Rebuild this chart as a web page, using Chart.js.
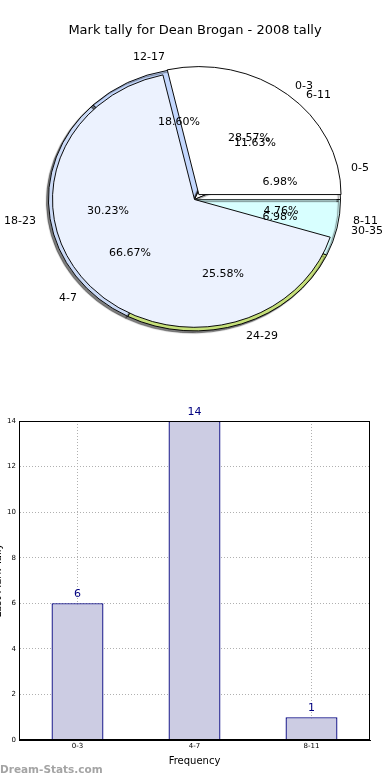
<!DOCTYPE html>
<html>
<head>
<meta charset="utf-8">
<script src="https://cdn.jsdelivr.net/npm/chart.js@4.4.0/dist/chart.umd.min.js"></script>
<style>
  html, body { margin: 0; padding: 0; background: #fff; }
  body { width: 390px; height: 780px; position: relative; overflow: hidden; font-family: "DejaVu Sans", sans-serif; }
  #title { position: absolute; left: 0; top: 22px; width: 390px; text-align: center; font-size: 13px; line-height: 16px; color: #000; z-index: 5; }
  .layer { position: absolute; left: 0; top: 0; width: 390px; height: 399px; }
  #barBox { position: absolute; left: -20px; top: 400px; width: 410px; height: 380px; }
  #mark { position: absolute; left: 0; top: 763px; font-size: 10.5px; font-weight: bold; color: #a4a4a4; }
</style>
</head>
<body>
<div id="title">Mark tally for Dean Brogan - 2008 tally</div>
<div class="layer"><canvas id="tally"></canvas></div>
<div class="layer"><canvas id="freqPie"></canvas></div>
<div id="barBox"><canvas id="bar"></canvas></div>
<div id="mark">Dream-Stats.com</div>

<script>
"use strict"

// DATA

// frequency groups (pie on top + bar chart)
const freqCats = ['0-3', '4-7', '8-11'];
const freqCounts = [6, 14, 1];

// tally groups (pie underneath)
const tallyCats = ['0-5', '6-11', '12-17', '18-23', '24-29', '30-35'];
const tallyCounts = [3, 5, 8, 13, 11, 3];

// bar chart axis
const yTicks = [0, 2, 4, 6, 8, 10, 12, 14];
const xTitle = 'Frequency';
const yTitle = 'Last Mark Tally';

// colours
const freqColors = ['#ffffff', '#ecf2fe', 'rgba(216,255,255,0.5)'];
const freqBorders = ['#000', '#000', 'rgba(0,0,0,0)'];
const tallyColors = ['#ffffff', '#ffffff', '#c3d7fd', '#cbdaf6', '#c6e07a', '#d8ffff'];

// SETUP

Chart.defaults.font.family = '"DejaVu Sans", sans-serif';
Chart.defaults.color = '#000';

// the pie is an ellipse in the picture: squash it vertically round its centre
const SY = 0.9;
const pieR = 146;
const innerR = 142;

// matplotlib goes counter-clockwise from 3 o'clock, Chart.js clockwise
const rev = a => a.slice().reverse();

function squash(withShadow) {
  return {
    id: 'squash',
    beforeDatasetsDraw(chart) {
      const ctx = chart.ctx;
      const a = chart.chartArea;
      const cy = (a.top + a.bottom) / 2;
      ctx.save();
      ctx.translate(0, cy * (1 - SY));
      ctx.scale(1, SY);
      if (withShadow) {
        ctx.shadowColor = 'rgba(0,0,0,0.5)';
        ctx.shadowOffsetX = -2;
        ctx.shadowOffsetY = 2;
        ctx.shadowBlur = 1;
      }
    },
    afterDatasetsDraw(chart) {
      chart.ctx.restore();
    }
  };
}

const pieOptions = (r) => ({
  responsive: true,
  maintainAspectRatio: false,
  animation: false,
  rotation: 90,
  radius: r,
  layout: { padding: { right: 1 } },
  plugins: { legend: { display: false }, tooltip: { enabled: false } }
});

// pie underneath
const tallyChart = new Chart(document.getElementById('tally'), {
  type: 'pie',
  data: {
    labels: rev(tallyCats),
    datasets: [{
      data: rev(tallyCounts),
      backgroundColor: rev(tallyColors),
      borderColor: '#000',
      borderWidth: 1
    }]
  },
  options: pieOptions(pieR),
  plugins: [squash(true)]
});

// labels of both pies, drawn on the top canvas
const pieText = {
  id: 'pieText',
  afterDraw(chart) {
    const ctx = chart.ctx;
    ctx.save();
    ctx.fillStyle = '#000';
    ctx.font = '11px "DejaVu Sans"';
    ctx.textBaseline = 'middle';
    const put = (text, x, y, align) => {
      ctx.textAlign = align;
      ctx.fillText(text, Math.round(x), Math.round(y) + 0.5);
    };
    [chart, tallyChart].forEach(c => {
      const arcs = c.getDatasetMeta(0).data;
      const vals = c.data.datasets[0].data;
      const total = vals.reduce((a, b) => a + b, 0);
      arcs.forEach((arc, i) => {
        const mid = (arc.startAngle + arc.endAngle) / 2;
        const cos = Math.cos(mid), sin = Math.sin(mid) * SY;
        put(c.data.labels[i], arc.x + cos * pieR * 1.1, arc.y + sin * pieR * 1.1, cos >= 0 ? 'left' : 'right');
        put((vals[i] / total * 100).toFixed(2) + '%', arc.x + cos * pieR * 0.6, arc.y + sin * pieR * 0.6, 'center');
      });
    });
    ctx.restore();
  }
};

// pie on top
const freqPie = new Chart(document.getElementById('freqPie'), {
  type: 'pie',
  data: {
    labels: rev(freqCats),
    datasets: [{
      data: rev(freqCounts),
      backgroundColor: rev(freqColors),
      borderColor: rev(freqBorders),
      borderWidth: 1,
      offset: rev([28, 0, 0])
    }]
  },
  options: pieOptions(innerR),
  plugins: [squash(false), pieText]
});

// BAR CHART

const frame = {
  id: 'frame',
  afterDraw(chart) {
    const {ctx, chartArea: a} = chart;
    ctx.save();
    ctx.strokeStyle = '#000';
    ctx.lineWidth = 1;
    ctx.strokeRect(Math.round(a.left) + 0.5, Math.round(a.top) + 0.5, Math.round(a.right - a.left) - 1, Math.round(a.bottom - a.top) - 1);
    ctx.restore();
  }
};

const barValues = {
  id: 'barValues',
  afterDatasetsDraw(chart) {
    const ctx = chart.ctx;
    ctx.save();
    ctx.fillStyle = '#000080';
    ctx.font = '11px "DejaVu Sans"';
    ctx.textAlign = 'center';
    ctx.textBaseline = 'middle';
    chart.getDatasetMeta(0).data.forEach((bar, i) => {
      ctx.fillText(String(freqCounts[i]), bar.x, bar.y - 9);
    });
    ctx.restore();
  }
};

const barChart = new Chart(document.getElementById('bar'), {
  type: 'bar',
  data: {
    labels: freqCats,
    datasets: [{
      data: freqCounts,
      backgroundColor: '#ccccE3',
      borderColor: '#000080',
      borderWidth: 1.3,
      barPercentage: 0.444,
      categoryPercentage: 1
    }]
  },
  options: {
    responsive: true,
    maintainAspectRatio: false,
    animation: false,
    layout: { padding: { top: 21, right: 20, bottom: 0, left: 0 } },
    plugins: { legend: { display: false }, tooltip: { enabled: false } },
    scales: {
      x: {
        z: 1,
        offset: true,
        grid: { offset: false, color: '#b0b0b0', drawTicks: false },
        border: { display: true, color: '#000', dash: [1, 2] },
        ticks: { padding: 2, font: { size: 7 } },
        title: { display: true, text: xTitle, font: { size: 10 }, padding: { top: 0, bottom: 13 } },
        afterFit(s) { s.height = 40; }
      },
      y: {
        z: 1,
        min: yTicks[0],
        max: yTicks[yTicks.length - 1],
        afterBuildTicks(s) { s.ticks = yTicks.map(v => ({ value: v })); },
        grid: { color: '#b0b0b0', drawTicks: false },
        border: { display: true, color: '#000', dash: [1, 2] },
        ticks: { padding: 3, font: { size: 7 } },
        title: { display: true, text: yTitle, font: { size: 10 }, padding: { top: 12.5, bottom: 0 } },
        afterFit(s) { s.width = 39; }
      }
    }
  },
  plugins: [barValues, frame]
});
</script>
</body>
</html>
